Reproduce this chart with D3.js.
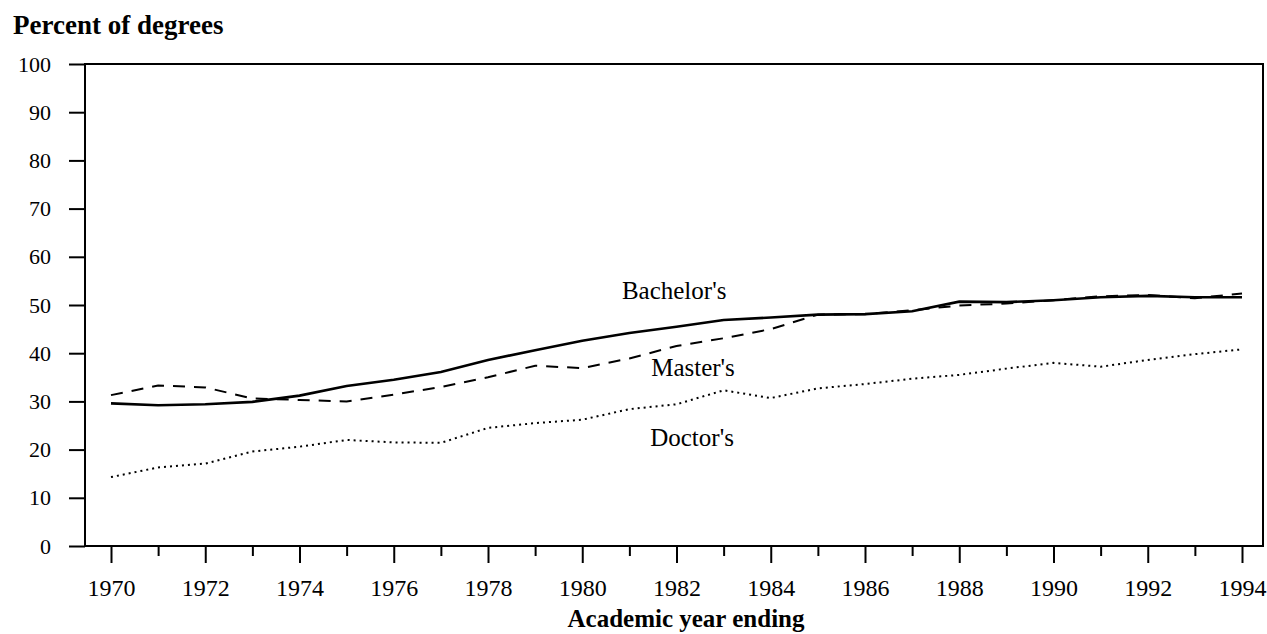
<!DOCTYPE html>
<html>
<head>
<meta charset="utf-8">
<script src="https://cdn.jsdelivr.net/npm/d3@7"></script>
<style>
    body { margin: 0; background: #fff; }
    svg text { font-family: "Liberation Serif", "Times New Roman", serif; fill: #000; }
</style>
</head>
<body>
<div id="chart"></div>
<script>
const years = d3.range(1970, 1995);
const bachelors = [29.6, 29.2, 29.4, 29.9, 31.2, 33.2, 34.5, 36.1, 38.6, 40.6, 42.6, 44.2, 45.5, 46.9, 47.4,
    48.0, 48.1, 48.7, 50.7, 50.6, 51.0, 51.6, 51.9, 51.6, 51.6];
const masters = [31.3, 33.3, 32.9, 30.6, 30.3, 30.0, 31.4, 33.0, 35.0, 37.4, 36.9, 38.9, 41.5, 43.1, 45.0,
    48.0, 48.1, 48.9, 49.9, 50.3, 51.0, 51.8, 52.1, 51.4, 52.4];
const doctors = [14.3, 16.3, 17.1, 19.6, 20.6, 22.0, 21.5, 21.4, 24.5, 25.5, 26.2, 28.4, 29.4, 32.3, 30.7,
    32.7, 33.6, 34.7, 35.5, 36.8, 38.0, 37.2, 38.6, 39.8, 40.8];
const yTicks = d3.range(0, 101, 10);
const labels = [
    {text: "Bachelor's", year: 1981.95, value: 51.2},
    {text: "Master's", year: 1982.35, value: 35.3},
    {text: "Doctor's", year: 1982.33, value: 20.7}
];

const width = 1267, height = 634;
const frame = {left: 85, right: 1263, top: 64, bottom: 546};

const svg = d3.select("#chart").append("svg")
    .attr("width", width)
    .attr("height", height);

const x = d3.scaleLinear()
    .domain([1970, 1994])
    .range([111, 1242]);

const y = d3.scaleLinear()
    .domain([0, 100])
    .range([frame.bottom, frame.top]);

// frame
svg.append("rect")
    .attr("x", frame.left)
    .attr("y", frame.top)
    .attr("width", frame.right - frame.left)
    .attr("height", frame.bottom - frame.top)
    .attr("fill", "none")
    .attr("stroke", "#000")
    .attr("stroke-width", 2);

// y axis
const yAxis = svg.append("g")
    .attr("transform", `translate(${frame.left}, 0)`)
    .call(d3.axisLeft(y).tickValues(yTicks).tickSize(16).tickPadding(18));
yAxis.select(".domain").remove();
yAxis.selectAll("line").attr("stroke-width", 2);
yAxis.selectAll("text")
    .style("font-size", "22px")
    .attr("font-family", null);

// x axis: labels on even years, short ticks on odd years
const xAxis = svg.append("g")
    .attr("transform", `translate(0, ${frame.bottom})`)
    .call(d3.axisBottom(x)
        .tickValues(years)
        .tickSize(17)
        .tickPadding(16)
        .tickFormat(d => d % 2 === 0 ? d : ""));
xAxis.select(".domain").remove();
xAxis.selectAll("line")
    .attr("stroke-width", 2)
    .attr("y2", d => d % 2 === 0 ? 17 : 10);
xAxis.selectAll("text")
    .style("font-size", "24px")
    .attr("font-family", null);

// series
const line = d3.line()
    .x((d, i) => x(years[i]))
    .y(d => y(d));

svg.append("path")
    .datum(doctors)
    .attr("fill", "none")
    .attr("stroke", "#000")
    .attr("stroke-width", 2)
    .attr("stroke-dasharray", "2,4")
    .attr("d", line);

svg.append("path")
    .datum(masters)
    .attr("fill", "none")
    .attr("stroke", "#000")
    .attr("stroke-width", 2)
    .attr("stroke-dasharray", "12,9")
    .attr("d", line);

svg.append("path")
    .datum(bachelors)
    .attr("fill", "none")
    .attr("stroke", "#000")
    .attr("stroke-width", 2.6)
    .attr("d", line);

svg.selectAll(".series-label")
    .data(labels)
    .enter()
    .append("text")
    .attr("class", "series-label")
    .attr("text-anchor", "middle")
    .attr("x", d => x(d.year))
    .attr("y", d => y(d.value))
    .style("font-size", "25px")
    .text(d => d.text);

// titles
svg.append("text")
    .attr("x", 13)
    .attr("y", 34)
    .style("font-size", "27px")
    .style("font-weight", "bold")
    .text("Percent of degrees");

svg.append("text")
    .attr("text-anchor", "middle")
    .attr("x", 686)
    .attr("y", 627)
    .style("font-size", "25px")
    .style("font-weight", "bold")
    .text("Academic year ending");
</script>
</body>
</html>
